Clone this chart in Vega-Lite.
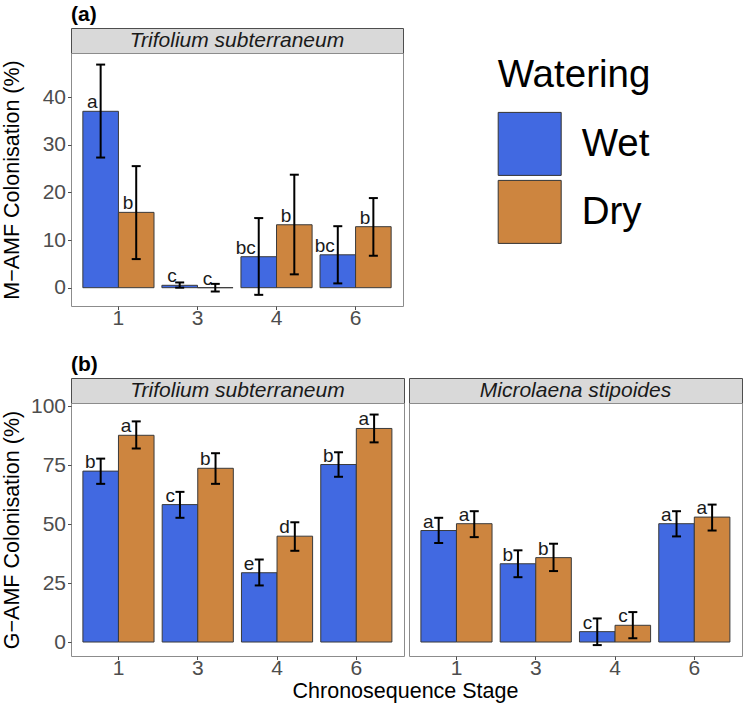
{
  "$schema": "https://vega.github.io/schema/vega-lite/v6.json",
  "padding": {"left": 0, "right": 5, "top": 3, "bottom": 0},
  "background": "white",
  "config": {
    "font": "Liberation Sans",
    "view": {"stroke": "#8c8c8c", "strokeWidth": 1},
    "axis": {"grid": false, "domain": false, "tickColor": "#4d4d4d", "tickSize": 3.5, "labelFontSize": 21, "labelColor": "#4d4d4d", "titleFontSize": 21.5, "titleFontWeight": "normal", "titleColor": "#000000"},
    "axisX": {"labelPadding": -2},
    "axisY": {"labelPadding": 2},
    "title": {"fontSize": 21, "fontWeight": "bold", "anchor": "start", "frame": "group", "color": "#000000", "offset": 3}
  },
  "datasets": {
    "bars": [
      {"Panel": "a", "Species": "Trifolium subterraneum", "Stage": "1", "Watering": "Wet", "Mean": 37.0, "Lower": 27.3, "Upper": 46.8, "Letter": "a"},
      {"Panel": "a", "Species": "Trifolium subterraneum", "Stage": "1", "Watering": "Dry", "Mean": 15.8, "Lower": 6.0, "Upper": 25.5, "Letter": "b"},
      {"Panel": "a", "Species": "Trifolium subterraneum", "Stage": "3", "Watering": "Wet", "Mean": 0.5, "Lower": 0.0, "Upper": 1.1, "Letter": "c"},
      {"Panel": "a", "Species": "Trifolium subterraneum", "Stage": "3", "Watering": "Dry", "Mean": 0.0, "Lower": -0.8, "Upper": 0.8, "Letter": "c"},
      {"Panel": "a", "Species": "Trifolium subterraneum", "Stage": "4", "Watering": "Wet", "Mean": 6.5, "Lower": -1.5, "Upper": 14.6, "Letter": "bc"},
      {"Panel": "a", "Species": "Trifolium subterraneum", "Stage": "4", "Watering": "Dry", "Mean": 13.2, "Lower": 2.8, "Upper": 23.7, "Letter": "b"},
      {"Panel": "a", "Species": "Trifolium subterraneum", "Stage": "6", "Watering": "Wet", "Mean": 6.9, "Lower": 0.9, "Upper": 12.9, "Letter": "bc"},
      {"Panel": "a", "Species": "Trifolium subterraneum", "Stage": "6", "Watering": "Dry", "Mean": 12.8, "Lower": 6.7, "Upper": 18.8, "Letter": "b"},
      {"Panel": "b", "Species": "Trifolium subterraneum", "Stage": "1", "Watering": "Wet", "Mean": 72.5, "Lower": 67.1, "Upper": 77.8, "Letter": "b"},
      {"Panel": "b", "Species": "Trifolium subterraneum", "Stage": "1", "Watering": "Dry", "Mean": 87.7, "Lower": 82.1, "Upper": 93.6, "Letter": "a"},
      {"Panel": "b", "Species": "Trifolium subterraneum", "Stage": "3", "Watering": "Wet", "Mean": 58.3, "Lower": 52.7, "Upper": 63.7, "Letter": "c"},
      {"Panel": "b", "Species": "Trifolium subterraneum", "Stage": "3", "Watering": "Dry", "Mean": 73.7, "Lower": 67.1, "Upper": 80.1, "Letter": "b"},
      {"Panel": "b", "Species": "Trifolium subterraneum", "Stage": "4", "Watering": "Wet", "Mean": 29.4, "Lower": 24.0, "Upper": 35.0, "Letter": "e"},
      {"Panel": "b", "Species": "Trifolium subterraneum", "Stage": "4", "Watering": "Dry", "Mean": 44.9, "Lower": 38.7, "Upper": 50.8, "Letter": "d"},
      {"Panel": "b", "Species": "Trifolium subterraneum", "Stage": "6", "Watering": "Wet", "Mean": 75.3, "Lower": 70.1, "Upper": 80.5, "Letter": "b"},
      {"Panel": "b", "Species": "Trifolium subterraneum", "Stage": "6", "Watering": "Dry", "Mean": 90.6, "Lower": 84.7, "Upper": 96.5, "Letter": "a"},
      {"Panel": "b", "Species": "Microlaena stipoides", "Stage": "1", "Watering": "Wet", "Mean": 47.3, "Lower": 42.0, "Upper": 52.7, "Letter": "a"},
      {"Panel": "b", "Species": "Microlaena stipoides", "Stage": "1", "Watering": "Dry", "Mean": 50.2, "Lower": 44.5, "Upper": 55.5, "Letter": "a"},
      {"Panel": "b", "Species": "Microlaena stipoides", "Stage": "3", "Watering": "Wet", "Mean": 33.2, "Lower": 27.5, "Upper": 38.9, "Letter": "b"},
      {"Panel": "b", "Species": "Microlaena stipoides", "Stage": "3", "Watering": "Dry", "Mean": 35.8, "Lower": 30.1, "Upper": 41.7, "Letter": "b"},
      {"Panel": "b", "Species": "Microlaena stipoides", "Stage": "4", "Watering": "Wet", "Mean": 4.4, "Lower": -1.3, "Upper": 10.0, "Letter": "c"},
      {"Panel": "b", "Species": "Microlaena stipoides", "Stage": "4", "Watering": "Dry", "Mean": 7.1, "Lower": 1.6, "Upper": 12.7, "Letter": "c"},
      {"Panel": "b", "Species": "Microlaena stipoides", "Stage": "6", "Watering": "Wet", "Mean": 50.2, "Lower": 44.8, "Upper": 55.5, "Letter": "a"},
      {"Panel": "b", "Species": "Microlaena stipoides", "Stage": "6", "Watering": "Dry", "Mean": 53.0, "Lower": 47.3, "Upper": 58.3, "Letter": "a"}
    ]
  },
  "resolve": {"legend": {"color": "independent"}},
  "spacing": 24,
  "vconcat": [
    {
      "spacing": 0,
      "bounds": "flush",
      "vconcat": [
        {
          "width": 332, "height": 25,
          "title": {"text": "(a)"},
          "data": {"values": [{"Strip": "Trifolium subterraneum"}]},
          "mark": {"type": "text", "fontSize": 21, "fontStyle": "italic", "color": "#1a1a1a"},
          "encoding": {"text": {"field": "Strip"}},
          "view": {"fill": "#d9d9d9", "stroke": "#4d4d4d"}
        },
        {
          "width": 332, "height": 253,
          "data": {"name": "bars"},
          "transform": [{"filter": "datum.Panel == 'a'"}],
          "encoding": {
            "x": {"field": "Stage", "type": "nominal", "scale": {"domain": ["1", "3", "4", "6"], "paddingInner": 0.1, "paddingOuter": 0.15}, "axis": {"title": null, "labelAngle": 0}},
            "xOffset": {"field": "Watering", "type": "nominal", "scale": {"domain": ["Wet", "Dry"], "paddingInner": 0, "paddingOuter": 0}}
          },
          "layer": [
            {
              "mark": {"type": "bar", "stroke": "#3a3a3a", "strokeWidth": 1},
              "encoding": {
                "y": {"field": "Mean", "type": "quantitative", "scale": {"domain": [-3.84, 49.23], "nice": false, "zero": false}, "axis": {"values": [0, 10, 20, 30, 40], "title": "M−AMF Colonisation (%)", "minExtent": 40, "maxExtent": 40, "titlePadding": 8}},
                "color": {"field": "Watering", "type": "nominal", "scale": {"domain": ["Wet", "Dry"], "range": ["#4169E1", "#CD853F"]},
                  "legend": {"title": "Watering", "orient": "right", "offset": 65, "padding": 28.7, "titleFontSize": 38.5, "titleFontWeight": "normal", "titleColor": "#000000", "titlePadding": 16.7, "labelFontSize": 38.5, "labelColor": "#000000", "labelOffset": 20, "symbolType": "square", "symbolSize": 3969, "symbolStrokeColor": "#333333", "symbolStrokeWidth": 1, "symbolOpacity": 1, "rowPadding": 0}}
              }
            },
            {
              "mark": {"type": "text", "align": "right", "baseline": "alphabetic", "dx": -3, "dy": -3, "fontSize": 19, "color": "#1a1a1a"},
              "encoding": {"y": {"field": "Mean", "type": "quantitative", "axis": {"values": [0, 10, 20, 30, 40], "title": "M−AMF Colonisation (%)", "minExtent": 40, "maxExtent": 40, "titlePadding": 8}}, "text": {"field": "Letter"}}
            },
            {
              "mark": {"type": "rule", "strokeWidth": 2, "color": "#000000"},
              "encoding": {"y": {"field": "Lower", "type": "quantitative", "axis": {"values": [0, 10, 20, 30, 40], "title": "M−AMF Colonisation (%)", "minExtent": 40, "maxExtent": 40, "titlePadding": 8}}, "y2": {"field": "Upper"}}
            },
            {
              "mark": {"type": "tick", "orient": "horizontal", "size": 9, "thickness": 2, "color": "#000000", "opacity": 1},
              "encoding": {"y": {"field": "Lower", "type": "quantitative", "axis": {"values": [0, 10, 20, 30, 40], "title": "M−AMF Colonisation (%)", "minExtent": 40, "maxExtent": 40, "titlePadding": 8}}}
            },
            {
              "mark": {"type": "tick", "orient": "horizontal", "size": 9, "thickness": 2, "color": "#000000", "opacity": 1},
              "encoding": {"y": {"field": "Upper", "type": "quantitative", "axis": {"values": [0, 10, 20, 30, 40], "title": "M−AMF Colonisation (%)", "minExtent": 40, "maxExtent": 40, "titlePadding": 8}}}
            }
          ]
        }
      ]
    },
    {
      "spacing": 3,
      "title": {"text": "Chronosequence Stage", "orient": "bottom", "anchor": "middle", "frame": "bounds", "fontSize": 21.5, "fontWeight": "normal", "offset": 2, "dx": 34},
      "hconcat": [
        {
          "spacing": 0,
          "bounds": "flush",
          "vconcat": [
            {
              "width": 333, "height": 25,
              "title": {"text": "(b)"},
              "data": {"values": [{"Strip": "Trifolium subterraneum"}]},
              "mark": {"type": "text", "fontSize": 21, "fontStyle": "italic", "color": "#1a1a1a"},
              "encoding": {"text": {"field": "Strip"}},
              "view": {"fill": "#d9d9d9", "stroke": "#4d4d4d"}
            },
            {
              "width": 333, "height": 253,
              "data": {"name": "bars"},
              "transform": [{"filter": "datum.Panel == 'b' && datum.Species == 'Trifolium subterraneum'"}],
              "encoding": {
                "x": {"field": "Stage", "type": "nominal", "scale": {"domain": ["1", "3", "4", "6"], "paddingInner": 0.1, "paddingOuter": 0.15}, "axis": {"title": null, "labelAngle": 0}},
                "xOffset": {"field": "Watering", "type": "nominal", "scale": {"domain": ["Wet", "Dry"], "paddingInner": 0, "paddingOuter": 0}}
              },
              "layer": [
                {
                  "mark": {"type": "bar", "stroke": "#3a3a3a", "strokeWidth": 1},
                  "encoding": {
                    "y": {"field": "Mean", "type": "quantitative", "scale": {"domain": [-5.93, 101.4], "nice": false, "zero": false}, "axis": {"values": [0, 25, 50, 75, 100], "title": "G−AMF Colonisation (%)", "minExtent": 40, "maxExtent": 40, "titlePadding": 8}},
                    "color": {"field": "Watering", "type": "nominal", "scale": {"domain": ["Wet", "Dry"], "range": ["#4169E1", "#CD853F"]}, "legend": null}
                  }
                },
                {
                  "mark": {"type": "text", "align": "right", "baseline": "alphabetic", "dx": -5, "dy": -3, "fontSize": 19, "color": "#1a1a1a"},
                  "encoding": {"y": {"field": "Mean", "type": "quantitative", "axis": {"values": [0, 25, 50, 75, 100], "title": "G−AMF Colonisation (%)", "minExtent": 40, "maxExtent": 40, "titlePadding": 8}}, "text": {"field": "Letter"}}
                },
                {
                  "mark": {"type": "rule", "strokeWidth": 2, "color": "#000000"},
                  "encoding": {"y": {"field": "Lower", "type": "quantitative", "axis": {"values": [0, 25, 50, 75, 100], "title": "G−AMF Colonisation (%)", "minExtent": 40, "maxExtent": 40, "titlePadding": 8}}, "y2": {"field": "Upper"}}
                },
                {
                  "mark": {"type": "tick", "orient": "horizontal", "size": 9, "thickness": 2, "color": "#000000", "opacity": 1},
                  "encoding": {"y": {"field": "Lower", "type": "quantitative", "axis": {"values": [0, 25, 50, 75, 100], "title": "G−AMF Colonisation (%)", "minExtent": 40, "maxExtent": 40, "titlePadding": 8}}}
                },
                {
                  "mark": {"type": "tick", "orient": "horizontal", "size": 9, "thickness": 2, "color": "#000000", "opacity": 1},
                  "encoding": {"y": {"field": "Upper", "type": "quantitative", "axis": {"values": [0, 25, 50, 75, 100], "title": "G−AMF Colonisation (%)", "minExtent": 40, "maxExtent": 40, "titlePadding": 8}}}
                }
              ]
            }
          ]
        },
        {
          "spacing": 0,
          "bounds": "flush",
          "vconcat": [
            {
              "width": 333, "height": 25,
              "data": {"values": [{"Strip": "Microlaena stipoides"}]},
              "mark": {"type": "text", "fontSize": 21, "fontStyle": "italic", "color": "#1a1a1a"},
              "encoding": {"text": {"field": "Strip"}},
              "view": {"fill": "#d9d9d9", "stroke": "#4d4d4d"}
            },
            {
              "width": 333, "height": 253,
              "data": {"name": "bars"},
              "transform": [{"filter": "datum.Panel == 'b' && datum.Species == 'Microlaena stipoides'"}],
              "encoding": {
                "x": {"field": "Stage", "type": "nominal", "scale": {"domain": ["1", "3", "4", "6"], "paddingInner": 0.1, "paddingOuter": 0.15}, "axis": {"title": null, "labelAngle": 0}},
                "xOffset": {"field": "Watering", "type": "nominal", "scale": {"domain": ["Wet", "Dry"], "paddingInner": 0, "paddingOuter": 0}}
              },
              "layer": [
                {
                  "mark": {"type": "bar", "stroke": "#3a3a3a", "strokeWidth": 1},
                  "encoding": {
                    "y": {"field": "Mean", "type": "quantitative", "scale": {"domain": [-5.93, 101.4], "nice": false, "zero": false}, "axis": null},
                    "color": {"field": "Watering", "type": "nominal", "scale": {"domain": ["Wet", "Dry"], "range": ["#4169E1", "#CD853F"]}, "legend": null}
                  }
                },
                {
                  "mark": {"type": "text", "align": "right", "baseline": "alphabetic", "dx": -5, "dy": -3, "fontSize": 19, "color": "#1a1a1a"},
                  "encoding": {"y": {"field": "Mean", "type": "quantitative", "axis": null}, "text": {"field": "Letter"}}
                },
                {
                  "mark": {"type": "rule", "strokeWidth": 2, "color": "#000000"},
                  "encoding": {"y": {"field": "Lower", "type": "quantitative", "axis": null}, "y2": {"field": "Upper"}}
                },
                {
                  "mark": {"type": "tick", "orient": "horizontal", "size": 9, "thickness": 2, "color": "#000000", "opacity": 1},
                  "encoding": {"y": {"field": "Lower", "type": "quantitative", "axis": null}}
                },
                {
                  "mark": {"type": "tick", "orient": "horizontal", "size": 9, "thickness": 2, "color": "#000000", "opacity": 1},
                  "encoding": {"y": {"field": "Upper", "type": "quantitative", "axis": null}}
                }
              ]
            }
          ]
        }
      ]
    }
  ]
}
